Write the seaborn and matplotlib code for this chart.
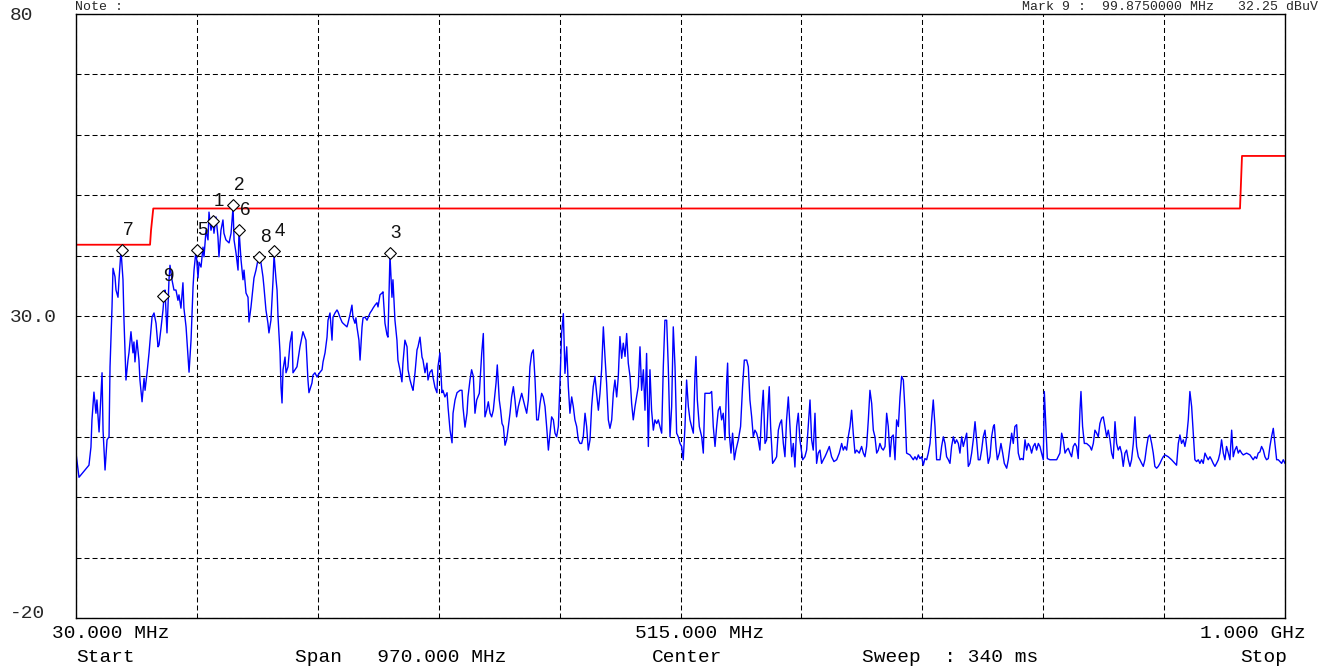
import matplotlib.pyplot as plt
import pandas as pd
import seaborn as sns

# measured trace (MHz, dBuV)
freq_mhz = [
    30.0, 32.4, 40.4, 42.0, 42.8, 44.4, 46.0, 46.8, 48.5, 49.3, 50.9, 51.7, 53.3, 54.9, 56.5, 57.3,
    58.9, 59.7, 61.3, 62.1, 63.7, 64.5, 66.1, 67.7, 68.5, 70.1, 71.7, 72.5, 74.1, 75.7, 76.5, 77.3,
    78.9, 80.5, 81.3, 83.0, 84.6, 85.4, 87.0, 88.6, 91.0, 92.6, 94.2, 95.8, 96.6, 98.2, 99.8, 100.6,
    101.4, 103.0, 104.6, 105.4, 107.0, 108.6, 110.2, 111.8, 112.6, 114.2, 115.8, 116.6, 118.3, 119.9,
    120.7, 122.3, 123.9, 124.7, 126.3, 127.9, 128.7, 130.3, 131.9, 132.7, 134.3, 135.9, 136.7, 138.3,
    139.9, 140.7, 142.3, 143.9, 144.7, 146.3, 147.9, 148.7, 150.3, 152.8, 154.4, 156.0, 156.8, 158.4,
    160.0, 160.8, 162.4, 164.0, 164.8, 166.4, 168.0, 168.8, 170.4, 172.0, 172.8, 174.4, 176.0, 176.8,
    178.4, 180.0, 180.8, 182.4, 184.0, 184.8, 186.4, 188.1, 188.9, 190.5, 191.3, 192.1, 193.7, 194.5,
    195.3, 196.1, 197.7, 198.5, 200.1, 201.7, 203.3, 204.1, 205.7, 207.3, 209.7, 212.1, 214.5, 216.1,
    216.9, 219.3, 220.1, 221.7, 223.4, 224.2, 225.8, 227.4, 228.2, 229.8, 231.4, 232.2, 233.8, 235.4,
    236.2, 237.8, 239.4, 240.2, 241.8, 243.4, 244.2, 245.8, 247.4, 248.2, 249.8, 251.4, 252.2, 253.8,
    254.6, 255.4, 257.0, 257.9, 259.5, 260.3, 261.9, 263.5, 264.3, 265.9, 267.5, 268.3, 269.9, 271.5,
    272.3, 273.9, 275.5, 276.3, 277.9, 279.5, 280.3, 281.9, 283.5, 284.3, 285.9, 287.5, 288.3, 289.9,
    291.5, 292.3, 293.9, 295.6, 296.4, 298.0, 299.6, 300.4, 302.0, 303.6, 304.4, 306.0, 307.6, 308.4,
    310.0, 311.6, 312.4, 314.0, 315.6, 316.4, 318.0, 319.6, 320.4, 322.0, 323.6, 324.4, 326.0, 327.7,
    328.5, 330.1, 331.7, 332.5, 334.1, 335.7, 338.1, 339.7, 340.5, 342.1, 343.7, 344.5,
    346.1, 347.4, 348.8, 350.1, 351.5, 353.6, 355.5, 356.8, 358.1, 359.5, 360.8, 362.2, 363.5, 364.8,
    367.0, 368.0, 369.6, 370.7, 371.8, 372.9, 374.2, 375.5, 376.9, 378.2, 379.5, 380.9, 382.2, 383.5,
    384.9, 386.2, 387.6, 388.9, 390.2, 391.6, 392.9, 394.2, 395.6, 396.9, 398.3, 399.6, 400.9, 402.3,
    403.6, 404.9, 406.3, 407.6, 409.0, 410.3, 411.6, 413.0, 414.3, 415.6, 417.0, 418.3, 419.6, 421.0,
    422.3, 423.7, 425.0, 426.3, 427.7, 429.0, 430.3, 431.7, 433.0, 434.4, 435.7, 437.0, 438.4, 439.7,
    441.0, 442.4, 443.7, 445.0, 446.4, 447.7, 449.1, 450.4, 451.7, 453.1, 454.4, 455.7, 457.1, 458.4,
    459.8, 461.1, 462.4, 463.8, 465.1, 466.4, 467.8, 469.1, 470.5, 471.8, 473.1, 474.5, 475.8, 477.1,
    478.5, 479.8, 481.1, 482.5, 483.8, 485.2, 486.5, 487.8, 489.2, 490.5, 491.8, 493.2, 494.5, 495.9,
    497.2, 498.5, 499.9, 501.2, 502.5, 503.9, 505.2, 506.6, 507.9, 509.2, 510.6, 511.9, 513.2, 514.6,
    515.9, 517.2, 518.6, 519.9, 521.3, 522.6, 523.9, 525.3, 526.6, 527.4, 528.5, 530.1, 532.0, 533.3,
    534.6, 536.0, 538.6, 540.0, 541.3, 542.7, 544.0, 545.3, 546.7, 548.0, 549.3, 550.7, 552.0, 552.8,
    554.1, 555.5, 556.8, 558.2, 559.5, 561.4, 563.2, 564.8, 566.2, 568.1, 569.4, 570.7, 572.1, 573.4,
    574.7, 576.1, 577.4, 578.7, 580.1, 581.4, 582.8, 584.1, 585.4, 586.2, 587.3, 588.9, 590.8, 592.1,
    593.5, 594.8, 596.1, 597.5, 598.8, 600.1, 601.5, 602.8, 604.2, 605.5, 606.8, 608.2, 609.5, 610.8,
    613.0, 614.8, 616.2, 617.5, 618.9, 620.2, 621.5, 622.9, 624.2, 625.5, 626.9, 628.2, 629.6, 630.9,
    632.2, 634.4, 636.2, 638.1, 640.3, 642.4, 644.3, 645.6, 646.9, 648.3, 649.6, 651.0, 652.3, 653.6,
    655.0, 656.3, 658.4,
    660.3, 661.7, 663.0, 664.3, 665.7, 667.0, 668.4, 669.7, 671.0, 672.4, 673.7, 675.0, 676.4, 677.7,
    679.1, 680.4, 681.7, 683.1, 684.4, 685.7, 687.1, 688.4, 689.8, 691.1, 692.4, 693.8, 695.1, 696.4,
    699.1, 701.8, 703.1, 704.5, 705.8, 707.1, 708.5, 709.8, 711.1, 712.5, 713.8, 715.2, 716.5, 717.8,
    719.2, 720.5, 723.2, 724.5, 725.9, 727.2, 728.5, 729.9, 731.2, 732.5, 733.9, 735.2, 736.5, 737.9,
    739.2, 740.6, 741.9, 743.2, 744.6, 745.9, 747.2, 748.6, 749.9, 751.3, 752.6, 753.9, 755.3, 756.6,
    757.9, 759.3, 760.6, 761.9, 763.3, 764.6, 766.0, 766.8, 768.1, 769.2, 770.8, 772.1, 773.5, 774.8,
    776.7, 778.0, 779.3, 780.7, 782.0, 783.3, 784.7, 786.0, 787.4, 788.7, 790.0, 791.4, 792.7, 794.0,
    795.4, 796.7, 798.0, 799.4, 800.7, 802.1, 803.4, 804.7, 806.1, 806.9, 808.2, 809.3, 811.4, 814.1,
    816.8, 819.4, 820.8, 822.1, 823.5, 824.8, 826.1, 827.5, 828.8, 830.1, 831.5, 832.8, 834.1, 835.5,
    836.3, 837.6, 839.0, 840.8, 843.5, 844.8, 846.2, 847.5, 848.9, 850.2, 851.5, 852.9, 854.2, 855.5,
    856.9, 858.2, 859.6, 860.9, 862.2, 863.6, 864.9, 866.2, 867.6, 868.9, 870.2, 871.6, 872.9, 874.3,
    875.6, 876.9, 878.3, 879.6, 880.9, 882.3, 883.6, 885.0, 886.3, 887.6, 889.0, 890.3, 891.6, 893.0,
    894.3, 895.6, 897.0, 898.3, 899.7, 901.0, 902.3, 903.7, 906.3, 909.0, 911.7, 913.0, 914.4, 915.7,
    917.0, 918.4, 919.7, 921.1, 922.4, 923.7, 925.1, 926.4, 927.7, 929.1, 930.4, 931.7, 933.1, 934.4,
    935.8, 937.1, 938.4, 939.8, 941.1, 942.4, 943.8, 945.1, 946.5, 947.8, 949.1, 950.5, 951.8, 953.1,
    954.5, 955.8, 957.2, 958.5, 959.8, 961.2, 962.5, 963.8, 965.2, 966.5, 969.2, 971.9, 974.5, 975.9,
    977.2, 978.5, 979.9, 981.2, 982.6, 983.9, 985.2, 986.6, 987.9, 989.2, 990.6, 991.9, 993.3, 994.6,
    995.9, 997.3, 998.6, 1000.0,
]
level_dbuv = [
    7.3, 3.3, 5.3, 8.3, 12.8, 17.4, 13.9, 16.1, 10.8, 13.9, 20.6, 11.1, 4.5, 9.5, 10.0, 21.6,
    31.5, 37.9, 36.5, 34.3, 33.1, 36.0, 40.9, 36.0, 29.3, 19.4, 22.7, 23.9, 27.4, 23.9, 25.7, 22.4,
    26.0, 22.7, 19.4, 15.8, 19.7, 17.7, 20.6, 23.9, 29.8, 30.5, 28.8, 24.9, 25.2, 28.0, 31.0, 33.1,
    34.3, 27.2, 36.0, 38.4, 36.0, 34.3, 34.3, 32.6, 33.5, 31.3, 35.5, 31.3, 28.2, 23.2,
    20.7, 26.0, 34.8, 37.6, 40.9, 36.3, 38.9, 38.1, 41.4, 39.8, 44.2, 42.6, 47.2, 44.2,
    45.6, 43.7, 46.4, 43.1, 39.8, 44.2, 45.9, 43.7, 42.6, 42.1, 43.7, 48.0, 42.6, 40.4,
    37.6, 44.2, 39.3, 36.0, 37.6, 33.8, 33.1, 29.0, 31.5, 34.8, 36.3, 37.6, 39.3, 39.8,
    38.8, 36.5, 34.8, 31.0, 28.8, 27.2, 29.3, 36.0, 40.1, 36.0, 34.3, 29.8, 23.9, 18.2,
    15.6, 21.1, 23.2, 20.6, 21.6, 25.5, 27.4, 20.6, 21.1, 21.6, 24.9, 27.4, 26.0, 19.4,
    17.3, 18.9, 20.2, 20.6, 19.9, 20.2, 20.7, 21.1, 22.4, 23.9, 26.5, 29.3, 30.5, 26.0,
    29.8, 30.5, 31.0, 30.7, 29.8, 29.0, 28.8, 28.5, 28.2, 28.8, 30.2, 31.8, 29.8, 28.8,
    29.7, 28.2, 26.0, 22.7, 28.2, 29.7, 29.8, 29.3, 29.7, 30.5, 31.0, 31.3, 31.8, 32.2,
    31.5, 33.5, 33.8, 34.0, 28.8, 26.9, 26.5, 40.1, 33.1, 36.0, 29.3, 26.0, 22.7, 21.1,
    19.1, 22.2, 26.0, 24.9, 21.1, 19.4, 18.2, 17.7, 20.6, 24.4, 24.9, 26.5, 23.2, 22.7,
    20.6, 22.2, 19.4, 20.7, 21.1, 19.9, 18.2, 17.3, 21.6, 23.9, 17.3, 17.7, 16.6, 17.3,
    14.9, 11.1, 9.0, 13.9, 16.1, 17.3, 17.7, 17.7, 14.9, 11.6, 13.9, 16.6,
    19.4, 21.1, 20.0, 13.9, 16.1, 17.2, 23.8, 27.1, 13.3, 14.4, 15.8, 13.9, 13.3, 14.4,
    18.9, 21.9, 16.1, 14.4, 12.2, 11.7, 8.6, 9.5, 11.7, 13.9, 16.6, 18.3, 16.1, 13.3,
    15.0, 16.1, 17.2, 16.1, 15.0, 13.9, 16.1, 21.6, 23.8, 24.4, 19.4, 12.8, 12.8, 15.5,
    17.2, 16.6, 15.0, 11.7, 7.8, 10.6, 13.3, 12.8, 10.6, 10.0, 11.7, 18.9, 27.1, 30.4,
    20.5, 24.9, 18.3, 13.9, 16.6, 15.0, 12.8, 11.7, 9.5, 8.9, 8.9, 10.0, 13.9, 11.7,
    7.8, 9.5, 15.0, 18.3, 20.0, 17.2, 14.4, 17.2, 21.1, 28.2, 23.3, 18.9, 12.8, 11.4,
    12.8, 17.2, 19.4, 16.6, 20.0, 26.6, 23.0, 25.5, 23.3, 27.1, 22.2, 20.0, 15.5, 12.8,
    15.0, 16.6, 18.3, 24.9, 17.7, 21.1, 14.4, 23.8, 8.4, 21.1, 14.4, 11.1, 12.8, 12.2,
    12.8, 11.7, 10.6, 21.6, 29.3, 29.3, 21.6, 10.0, 15.0, 28.2, 21.6, 10.6, 10.0, 8.9,
    8.4, 6.2, 11.7, 19.4, 15.0, 12.8, 11.7, 10.6, 20.0, 23.3, 16.1, 11.7, 10.0, 7.3,
    17.2, 17.2, 17.2, 17.5, 11.7, 8.4, 11.7, 14.4, 15.0, 12.8, 13.9, 9.5, 18.9, 22.2,
    10.6, 7.3, 10.6, 6.2, 7.8, 9.5, 11.7, 18.3, 22.7, 22.7, 21.6, 16.1, 13.3, 10.0,
    11.1, 10.6, 9.5, 7.8, 13.9, 17.7, 8.9, 9.5, 15.5, 18.3, 11.7, 5.6, 6.2, 6.7,
    11.1, 12.2, 12.8, 8.9, 6.7, 12.8, 16.6, 11.7, 6.7, 8.9, 5.0, 11.7, 13.9, 9.5,
    6.2, 6.7, 7.8, 11.7, 16.1, 9.5, 7.8, 13.9, 5.6, 7.3, 7.8, 5.6, 6.2, 6.7,
    7.3, 8.4, 6.7, 5.9, 6.2, 7.3, 8.9, 7.8, 8.4, 7.8, 10.0, 11.7, 14.4, 10.6,
    7.3, 7.8, 7.3,
    8.4, 7.3, 6.7, 8.4, 12.8, 17.7, 15.5, 11.1, 10.0, 7.3, 7.8, 8.9, 8.1, 7.8,
    8.4, 13.9, 11.7, 6.7, 10.0, 10.3, 6.2, 12.8, 11.7, 16.6, 20.0, 19.4, 14.4, 7.3,
    7.0, 6.2, 6.7, 6.2, 7.0, 6.4, 6.7, 5.3, 6.4, 6.2, 7.3, 8.9, 12.8, 16.1,
    11.7, 6.2, 6.2, 8.4, 10.0, 8.9, 6.7, 6.2, 5.6, 8.4, 10.0, 8.9, 9.5, 8.9,
    7.3, 10.0, 8.4, 9.5, 10.6, 5.1, 5.6, 7.3, 9.5, 12.5, 9.5, 6.2, 6.2, 7.8,
    10.0, 11.1, 8.4, 5.6, 6.7, 10.0, 11.7, 12.0, 8.4, 6.2, 7.3, 8.9, 7.3, 5.6,
    4.8, 6.2, 8.4, 10.6, 8.9, 11.7, 12.0, 7.3, 6.2, 6.4, 6.2, 9.5, 7.8, 8.9,
    8.4, 7.3, 8.4, 8.9, 7.8, 8.9, 8.4, 7.3, 6.2, 17.5, 11.7, 6.4, 6.2, 6.2,
    6.2, 7.3, 10.6, 9.5, 7.3, 7.8, 8.1, 7.3, 6.7, 8.4, 8.9, 8.4, 6.4, 14.4,
    17.5, 11.7, 8.9, 8.9, 8.4, 7.8, 8.9, 11.1, 10.6, 10.0, 12.2, 13.1, 13.3, 11.7,
    10.0, 11.1, 9.5, 7.3, 6.4, 12.5, 8.9, 7.8, 8.4, 7.3, 5.1, 7.3, 7.8, 6.2,
    5.1, 6.2, 8.9, 13.3, 8.4, 6.7, 6.2, 5.6, 5.1, 6.2, 8.4, 10.0, 10.3, 8.9,
    7.3, 5.1, 4.8, 5.1, 5.6, 6.2, 6.7, 7.0, 6.7, 6.2, 5.6, 5.3, 8.9, 10.3,
    8.9, 9.5, 8.4, 10.0, 12.8, 17.5, 15.0, 10.6, 6.2, 5.9, 6.2, 5.6, 6.2, 5.6,
    7.3, 6.7, 6.2, 6.7, 6.2, 5.6, 5.1, 5.6, 6.2, 7.3, 9.5, 7.3, 6.2, 8.4,
    7.3, 6.2, 11.1, 6.7, 7.8, 8.4, 7.3, 7.8, 7.3, 7.0, 7.3, 7.0, 6.2, 6.7,
    6.4, 7.3, 7.5, 8.4, 7.8, 6.7, 6.2, 6.4, 8.4, 10.0, 11.4, 8.9, 6.2, 6.2,
    5.9, 5.6, 6.2, 5.6,
]

limit_freq = [30.0, 89.4, 90.2, 92.0, 963.9, 965.5, 1000.0]
limit_level = [41.8, 41.8, 44.2, 47.8, 47.8, 56.5, 56.5]

marker_ids = ['1', '2', '3', '4', '5', '6', '7', '8', '9']
marker_freq = [139.9, 156.0, 281.9, 188.9, 126.8, 161.0, 66.9, 177.1, 99.5]
marker_level = [45.7, 48.4, 40.5, 40.8, 41.0, 44.3, 40.9, 39.8, 33.3]

x_ticks = [30 + 97 * k for k in range(11)]
y_ticks = list(range(-20, 81, 10))
y_labels = ['-20', '', '', '', '', '30.0', '', '', '', '', '80']

trace = pd.DataFrame({'freq': freq_mhz, 'level': level_dbuv})
limit = pd.DataFrame({'freq': limit_freq, 'level': limit_level})
marks = pd.DataFrame({'freq': marker_freq, 'level': marker_level, 'id': marker_ids})

sns.set_style('white')
mono = ['Liberation Mono', 'DejaVu Sans Mono']
W, H = 1322, 670


def fx(px):
    return px / W


def fy(py):
    return 1 - py / H


fig = plt.figure(figsize=(W / 100, H / 100), dpi=100)
ax = fig.add_axes([fx(76), fy(618), fx(1285) - fx(76), fy(14) - fy(618)])

sns.lineplot(data=limit, x='freq', y='level', sort=False, estimator=None,
             color='#ff0000', linewidth=1.3, ax=ax)
sns.lineplot(data=trace, x='freq', y='level', sort=False, estimator=None,
             color='#0000ff', linewidth=1.0, ax=ax)
sns.scatterplot(data=marks, x='freq', y='level', marker='D', s=36,
                color='white', edgecolor='black', linewidth=0.8, zorder=5, ax=ax)

for lbl, f, lv in zip(marker_ids, marker_freq, marker_level):
    ax.annotate(lbl, (f, lv), xytext=(4.3, 14.0), textcoords='offset points',
                ha='center', va='center', fontsize=13.5, color='#111',
                family=['Liberation Sans', 'DejaVu Sans'])

ax.set_xlim(30, 1000)
ax.set_ylim(-20, 80)
ax.set_xticks(x_ticks)
ax.set_xticklabels([])
ax.set_yticks(y_ticks)
ax.set_yticklabels(y_labels, family=mono, fontsize=14)
ax.tick_params(axis='both', length=0)
ax.tick_params(axis='y', pad=66 * 0.72)
for t, lab in zip(ax.get_yticklabels(), y_labels):
    t.set_ha('left')
    if lab == '-20':
        t.set_va('baseline')
ax.set_xlabel('')
ax.set_ylabel('')
ax.grid(True, color='black', linewidth=0.75, linestyle=(0, (4.8, 2.9)))
for s in ax.spines.values():
    s.set_color('black')
    s.set_linewidth(1.0)
    s.set_visible(True)

# analyzer annotation rows
txt = dict(family=mono, fontsize=14, va='center', ha='left', color='black')
fig.text(fx(52), fy(634), '30.000 MHz', **txt)
fig.text(fx(635), fy(634), '515.000 MHz', **txt)
fig.text(fx(1200), fy(634), '1.000 GHz', **txt)
fig.text(fx(76), fy(657), 'Start', **txt)
fig.text(fx(295), fy(657), 'Span   970.000 MHz', **txt)
fig.text(fx(652), fy(657), 'Center', **txt)
fig.text(fx(862), fy(657), 'Sweep  : 340 ms', **txt)
fig.text(fx(1240), fy(657), 'Stop', **txt)

# header lines squeezed into the band above the grid
fig.text(fx(75), fy(1), 'Note :', family=mono, fontsize=9.5, va='top', ha='left')
fig.text(fx(1318), fy(1), 'Mark 9 :  99.8750000 MHz   32.25 dBuV', family=mono,
         fontsize=9.5, va='top', ha='right')

fig.savefig('out.png', dpi=100)
